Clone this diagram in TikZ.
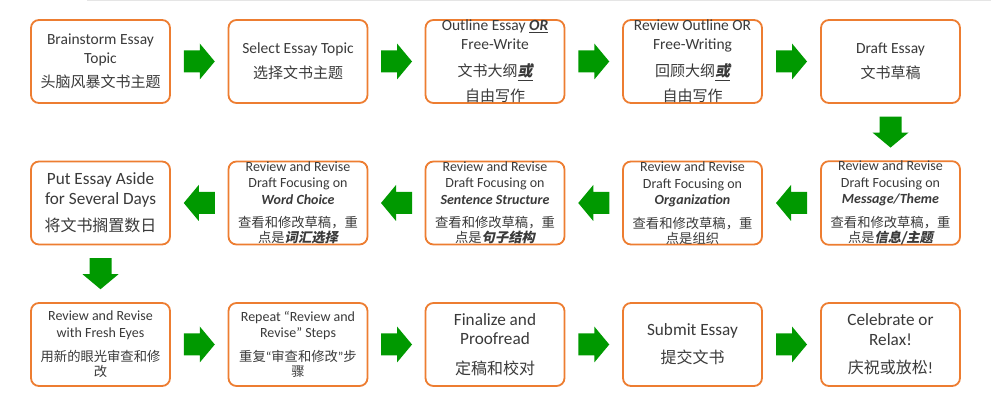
\documentclass[tikz,border=0pt]{standalone}
\usepackage{fontspec}
\setmainfont{Carlito}
\newfontfamily\cjk{Noto Sans CJK SC}
\usetikzlibrary{calc}
\definecolor{boxorange}{HTML}{ED7D31}
\definecolor{arrgreen}{HTML}{009900}
\definecolor{txt}{HTML}{3A3A3A}
\newcommand{\bim}[1]{\textbf{\textit{#1}}}
\newcommand{\bic}[1]{{\bfseries\addfontfeature{FakeSlant=0.2}#1}}
\newcommand{\buc}[1]{\underline{\bic{#1}}}
\begin{document}
\begin{tikzpicture}[x=1pt,y=-1pt,
  stepbox/.style={draw=boxorange, line width=1.8pt, rounded corners=8pt,
    minimum width=139pt, minimum height=83pt, inner sep=0pt, align=center,
    text=txt, fill=white},
  bigtxt/.style={font=\fontsize{15.5}{18.5}\selectfont},
  smalltxt/.style={font=\fontsize{14}{16.5}\selectfont},
  largetxt/.style={font=\fontsize{17.2}{20}\selectfont},
  rarr/.pic={\fill[arrgreen] (-15.5,-11) -- (0.5,-11) -- (0.5,-18) -- (15.5,0)
      -- (0.5,18) -- (0.5,11) -- (-15.5,11) -- cycle;}
]
\useasboundingbox (0,0) rectangle (991,411);
\draw[gray!20, line width=1.5pt] (87,0.5) -- (991,0.5);

% Row 1
\node[stepbox,bigtxt] (a1) at (100.5,61.5) {Brainstorm Essay\\Topic\\[6pt]{\cjk\fontsize{15}{18.5}\selectfont 头脑风暴文书主题}};
\node[stepbox,bigtxt] (a2) at (298,61.5) {Select Essay Topic\\[6.5pt]{\cjk\fontsize{15}{18.5}\selectfont 选择文书主题}};
\node[stepbox,bigtxt] (a3) at (495,61.5) {Outline Essay \underline{\bim{OR}}\\Free-Write\\[9pt]{\cjk\fontsize{15}{18.5}\selectfont 文书大纲\buc{或}}\\[6.5pt]{\cjk\fontsize{15}{18.5}\selectfont 自由写作}};
\node[stepbox,bigtxt] (a4) at (692.5,61.5) {Review Outline OR\\Free-Writing\\[9pt]{\cjk\fontsize{15}{18.5}\selectfont 回顾大纲\buc{或}}\\[6.5pt]{\cjk\fontsize{15}{18.5}\selectfont 自由写作}};
\node[stepbox,bigtxt] (a5) at (890.5,61.5) {Draft Essay\\[6.5pt]{\cjk\fontsize{15}{18.5}\selectfont 文书草稿}};

% Row 2
\node[stepbox,smalltxt] (b5) at (890.5,203) {Review and Revise\\Draft Focusing on\\\bim{Message/Theme}\\[7pt]{\cjk\fontsize{13.3}{15}\selectfont 查看和修改草稿，重}\\[-1.5pt]{\cjk\fontsize{13.3}{15}\selectfont 点是\bic{信息/主题}}};
\node[stepbox,smalltxt] (b4) at (692.5,203) {Review and Revise\\Draft Focusing on\\\bim{Organization}\\[7pt]{\cjk\fontsize{13.3}{15}\selectfont 查看和修改草稿，重}\\[-1.5pt]{\cjk\fontsize{13.3}{15}\selectfont 点是组织}};
\node[stepbox,smalltxt] (b3) at (495,203) {Review and Revise\\Draft Focusing on\\\bim{Sentence Structure}\\[7pt]{\cjk\fontsize{13.3}{15}\selectfont 查看和修改草稿，重}\\[-1.5pt]{\cjk\fontsize{13.3}{15}\selectfont 点是\bic{句子结构}}};
\node[stepbox,smalltxt] (b2) at (298,203) {Review and Revise\\Draft Focusing on\\\bim{Word Choice}\\[7pt]{\cjk\fontsize{13.3}{15}\selectfont 查看和修改草稿，重}\\[-1.5pt]{\cjk\fontsize{13.3}{15}\selectfont 点是\bic{词汇选择}}};
\node[stepbox,largetxt] (b1) at (100.5,203) {Put Essay Aside\\for Several Days\\[7pt]{\cjk\fontsize{16}{20}\selectfont 将文书搁置数日}};

% Row 3
\node[stepbox,smalltxt] (c1) at (100.5,344.5) {Review and Revise\\with Fresh Eyes\\[7.8pt]{\cjk\fontsize{13.3}{15}\selectfont 用新的眼光审查和修}\\[-1.5pt]{\cjk\fontsize{13.3}{15}\selectfont 改}};
\node[stepbox,smalltxt] (c2) at (298,344.5) {Repeat “Review and\\Revise” Steps\\[7.8pt]{\cjk\fontsize{13.3}{15}\selectfont 重复{\rmfamily “}审查和修改{\rmfamily ”}步}\\[-1.5pt]{\cjk\fontsize{13.3}{15}\selectfont 骤}};
\node[stepbox,largetxt] (c3) at (495,344.5) {Finalize and\\[-1pt]Proofread\\[10pt]{\cjk\fontsize{16}{20}\selectfont 定稿和校对}};
\node[stepbox,largetxt] (c4) at (692.5,344.5) {Submit Essay\\[8pt]{\cjk\fontsize{16}{20}\selectfont 提交文书}};
\node[stepbox,largetxt] (c5) at (890.5,344.5) {Celebrate or\\Relax!\\[8pt]{\cjk\fontsize{16}{20}\selectfont 庆祝或放松{\rmfamily !}}};

% Arrows
\path ($(a1.east)!0.5!(a2.west)$) pic {rarr};
\path ($(a2.east)!0.5!(a3.west)$) pic {rarr};
\path ($(a3.east)!0.5!(a4.west)$) pic {rarr};
\path ($(a4.east)!0.5!(a5.west)$) pic {rarr};
\path ($(a5.south)!0.5!(b5.north)$) pic[rotate=-90] {rarr};
\path ($(b5.west)!0.5!(b4.east)$) pic[rotate=180] {rarr};
\path ($(b4.west)!0.5!(b3.east)$) pic[rotate=180] {rarr};
\path ($(b3.west)!0.5!(b2.east)$) pic[rotate=180] {rarr};
\path ($(b2.west)!0.5!(b1.east)$) pic[rotate=180] {rarr};
\path ($(b1.south)!0.5!(c1.north)$) pic[rotate=-90] {rarr};
\path ($(c1.east)!0.5!(c2.west)$) pic {rarr};
\path ($(c2.east)!0.5!(c3.west)$) pic {rarr};
\path ($(c3.east)!0.5!(c4.west)$) pic {rarr};
\path ($(c4.east)!0.5!(c5.west)$) pic {rarr};
\end{tikzpicture}
\end{document}
